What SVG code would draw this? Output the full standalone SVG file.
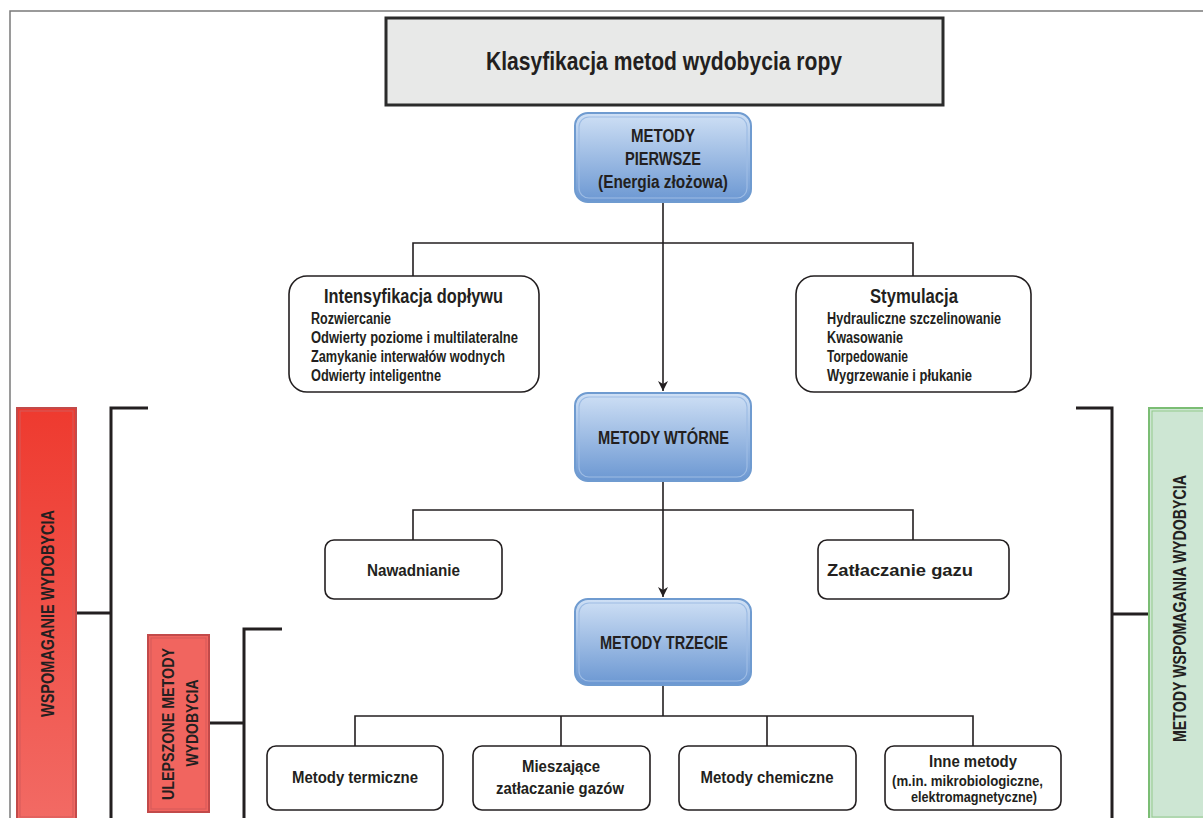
<svg xmlns="http://www.w3.org/2000/svg" width="1203" height="818" viewBox="0 0 1203 818">
<defs>
<linearGradient id="blue" x1="0" y1="0" x2="0" y2="1">
<stop offset="0" stop-color="#cfe0f5"/>
<stop offset="1" stop-color="#6b97d2"/>
</linearGradient>
<linearGradient id="red" x1="0" y1="0" x2="0" y2="1">
<stop offset="0" stop-color="#ee3a2f"/>
<stop offset="1" stop-color="#f26a64"/>
</linearGradient>
<marker id="arr" viewBox="0 0 10 10" refX="10" refY="5" markerWidth="10" markerHeight="10" markerUnits="userSpaceOnUse" orient="auto">
<path d="M0,0 L10,5 L0,10 L3,5 z" fill="#231f20"/>
</marker>
<style>
text{font-family:"Liberation Sans",Arial,sans-serif;font-weight:bold;fill:#231f20}
.c{text-anchor:middle}
.blue{fill:url(#blue);stroke:#6f9bd0;stroke-width:2}
.bin{fill:none;stroke:#9dbce4;stroke-width:1.2}
.wb{fill:#fff;stroke:#231f20;stroke-width:1.6}
.ln{fill:none;stroke:#231f20;stroke-width:1.6}
.br{fill:none;stroke:#231f20;stroke-width:3}
.t18{font-size:18px}
.t16{font-size:16px}
.t15{font-size:15px}
.t21{font-size:21px}
.t19{font-size:19px}
.t17{font-size:17px}
</style>
</defs>
<rect width="1203" height="818" fill="#fff"/>
<path d="M10,818 V11 H1203" fill="none" stroke="#7a7a7a" stroke-width="1.5"/>

<g id="connectors">
<path class="ln" d="M663,202 V391" marker-end="url(#arr)"/>
<path class="ln" d="M413,276 V243 H913 V276"/>
<path class="ln" d="M663,481 V597" marker-end="url(#arr)"/>
<path class="ln" d="M413,540 V510 H913 V540"/>
<path class="ln" d="M663,685 V716"/>
<path class="ln" d="M355,746 V716 H973 V746"/>
<path class="ln" d="M561,716 V746 M767,716 V746"/>
<path class="br" d="M148,408 H111 V818 M77,613 H111"/>
<path class="br" d="M282,629 H244 V818 M209,723 H244"/>
<path class="br" d="M1076,408 H1112 V818 M1112,614 H1149"/>
</g>

<g id="title">
<rect x="386" y="18" width="557" height="87" fill="#e8e9e8" stroke="#2b2b2b" stroke-width="3"/>
<text class="c" x="664" y="70" font-size="25" textLength="356" lengthAdjust="spacingAndGlyphs">Klasyfikacja metod wydobycia ropy</text>
</g>

<g id="metody-pierwsze">
<rect class="blue" x="575" y="113" width="176" height="89" rx="13"/>
<rect class="bin" x="579" y="117" width="168" height="81" rx="10"/>
<text class="c t18" x="663" y="142" textLength="64" lengthAdjust="spacingAndGlyphs">METODY</text>
<text class="c t18" x="663" y="165" textLength="76" lengthAdjust="spacingAndGlyphs">PIERWSZE</text>
<text class="c t18" x="663" y="188" textLength="130" lengthAdjust="spacingAndGlyphs">(Energia złożowa)</text>
</g>

<g id="intensyfikacja">
<rect class="wb" x="289" y="276" width="250" height="116" rx="18"/>
<text class="c t21" x="413.5" y="303" textLength="179" lengthAdjust="spacingAndGlyphs">Intensyfikacja dopływu</text>
<text class="t16" x="311" y="324" textLength="80" lengthAdjust="spacingAndGlyphs">Rozwiercanie</text>
<text class="t16" x="311" y="343" textLength="207" lengthAdjust="spacingAndGlyphs">Odwierty poziome i multilateralne</text>
<text class="t16" x="311" y="362" textLength="194" lengthAdjust="spacingAndGlyphs">Zamykanie interwałów wodnych</text>
<text class="t16" x="311" y="381" textLength="130" lengthAdjust="spacingAndGlyphs">Odwierty inteligentne</text>
</g>

<g id="stymulacja">
<rect class="wb" x="796" y="276" width="235" height="116" rx="18"/>
<text class="c t21" x="914" y="303" textLength="88" lengthAdjust="spacingAndGlyphs">Stymulacja</text>
<text class="t16" x="827" y="324" textLength="174" lengthAdjust="spacingAndGlyphs">Hydrauliczne szczelinowanie</text>
<text class="t16" x="827" y="343" textLength="76" lengthAdjust="spacingAndGlyphs">Kwasowanie</text>
<text class="t16" x="827" y="362" textLength="81" lengthAdjust="spacingAndGlyphs">Torpedowanie</text>
<text class="t16" x="827" y="381" textLength="145" lengthAdjust="spacingAndGlyphs">Wygrzewanie i płukanie</text>
</g>

<g id="metody-wtorne">
<rect class="blue" x="575" y="393" width="176" height="88" rx="13"/>
<rect class="bin" x="579" y="397" width="168" height="80" rx="10"/>
<text class="c t18" x="663.5" y="444" textLength="131" lengthAdjust="spacingAndGlyphs">METODY WTÓRNE</text>
</g>

<g id="nawadnianie">
<rect class="wb" x="325" y="540" width="177" height="59" rx="9"/>
<text class="c t16" x="413.5" y="576" textLength="93" lengthAdjust="spacingAndGlyphs">Nawadnianie</text>
</g>

<g id="zatlaczanie-gazu">
<rect class="wb" x="818" y="540" width="191" height="59" rx="9"/>
<text class="c t16" x="900" y="576" textLength="146" lengthAdjust="spacingAndGlyphs">Zatłaczanie gazu</text>
</g>

<g id="metody-trzecie">
<rect class="blue" x="575" y="599" width="176" height="86" rx="13"/>
<rect class="bin" x="579" y="603" width="168" height="78" rx="10"/>
<text class="c t18" x="664" y="649" textLength="128" lengthAdjust="spacingAndGlyphs">METODY TRZECIE</text>
</g>

<g id="termiczne">
<rect class="wb" x="267" y="746" width="176" height="64" rx="9"/>
<text class="c t16" x="355" y="783" textLength="126" lengthAdjust="spacingAndGlyphs">Metody termiczne</text>
</g>
<g id="mieszajace">
<rect class="wb" x="473" y="746" width="177" height="64" rx="9"/>
<text class="c t16" x="561" y="772" textLength="78" lengthAdjust="spacingAndGlyphs">Mieszające</text>
<text class="c t16" x="560" y="794" textLength="128" lengthAdjust="spacingAndGlyphs">zatłaczanie gazów</text>
</g>
<g id="chemiczne">
<rect class="wb" x="679" y="746" width="177" height="64" rx="9"/>
<text class="c t16" x="767" y="783" textLength="133" lengthAdjust="spacingAndGlyphs">Metody chemiczne</text>
</g>
<g id="inne">
<rect class="wb" x="885" y="746" width="176" height="64" rx="9"/>
<text class="c t17" x="973" y="767" textLength="88" lengthAdjust="spacingAndGlyphs">Inne metody</text>
<text class="c t15" x="967.5" y="786" textLength="151" lengthAdjust="spacingAndGlyphs">(m.in. mikrobiologiczne,</text>
<text class="c t15" x="974" y="802" textLength="126" lengthAdjust="spacingAndGlyphs">elektromagnetyczne)</text>
</g>

<g id="wspomaganie">
<rect x="17" y="408" width="59" height="412" fill="url(#red)" stroke="#c24a4a" stroke-width="2"/>
<rect x="20" y="411" width="53" height="406" fill="none" stroke="#d35a5a" stroke-width="1"/>
<text class="c t19" transform="translate(53.5,613.5) rotate(-90)" textLength="207" lengthAdjust="spacingAndGlyphs">WSPOMAGANIE WYDOBYCIA</text>
</g>

<g id="ulepszone">
<rect x="148" y="635" width="61" height="177" fill="#f1655f" stroke="#c24a4a" stroke-width="2"/>
<rect x="151" y="638" width="55" height="171" fill="none" stroke="#d35a5a" stroke-width="1"/>
<text class="c t17" transform="translate(174,724) rotate(-90)" textLength="152" lengthAdjust="spacingAndGlyphs">ULEPSZONE METODY</text>
<text class="c t17" transform="translate(197.5,723) rotate(-90)" textLength="87" lengthAdjust="spacingAndGlyphs">WYDOBYCIA</text>
</g>

<g id="metody-wspomagania">
<rect x="1149" y="408" width="60" height="412" fill="#cde6d3" stroke="#7bbd74" stroke-width="2"/>
<rect x="1152" y="411" width="54" height="406" fill="none" stroke="#93c98c" stroke-width="1"/>
<text class="c t19" transform="translate(1185.5,608.5) rotate(-90)" textLength="267" lengthAdjust="spacingAndGlyphs">METODY WSPOMAGANIA WYDOBYCIA</text>
</g>
</svg>
